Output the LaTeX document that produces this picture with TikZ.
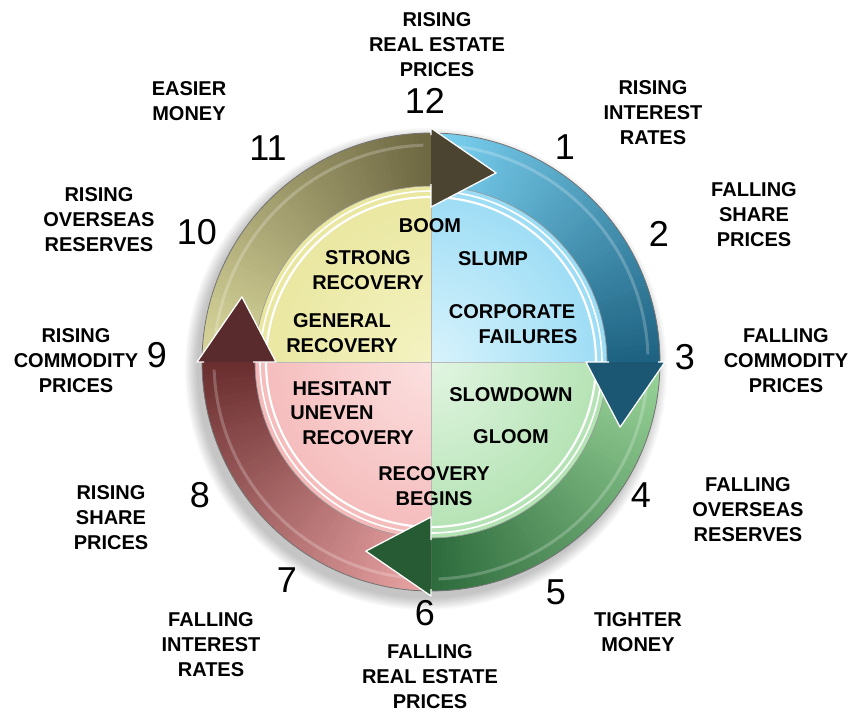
\documentclass[tikz,border=0pt]{standalone}
\usepackage{fontspec}
\setmainfont{Liberation Sans}

% quadrant colours (centre, middle, rim, outer rim)
\definecolor{yA}{HTML}{F4F3C2}\definecolor{yB}{HTML}{E8E59B}\definecolor{yC}{HTML}{D3CC80}\definecolor{yD}{HTML}{B5AD62}
\definecolor{bA}{HTML}{D8F3FC}\definecolor{bB}{HTML}{93D9F4}\definecolor{bC}{HTML}{45B6E5}\definecolor{bD}{HTML}{2A93C2}
\definecolor{gA}{HTML}{E2F5E2}\definecolor{gB}{HTML}{ADE0AD}\definecolor{gC}{HTML}{6DC276}\definecolor{gD}{HTML}{4A9A58}
\definecolor{rA}{HTML}{FCE0E0}\definecolor{rB}{HTML}{F4B6B6}\definecolor{rC}{HTML}{E38F8F}\definecolor{rD}{HTML}{C86767}

% band colours: light tail, dark end, arrow head
\definecolor{oL}{HTML}{DAD89D}\definecolor{oD}{HTML}{6E6843}\definecolor{oH}{HTML}{4A4431}
\definecolor{cL}{HTML}{7DD3F3}\definecolor{cD}{HTML}{1F6382}\definecolor{cH}{HTML}{1B5673}
\definecolor{grL}{HTML}{9AD59A}\definecolor{grD}{HTML}{2E6C3D}\definecolor{grH}{HTML}{265B33}
\definecolor{reL}{HTML}{EBA5A5}\definecolor{reD}{HTML}{6B2F30}\definecolor{reH}{HTML}{5A2B2C}

\pgfdeclareradialshading{quadY}{\pgfpoint{0bp}{0bp}}{color(0bp)=(yA); color(28bp)=(yB); color(44bp)=(yC); color(50bp)=(yD)}
\pgfdeclareradialshading{quadB}{\pgfpoint{0bp}{0bp}}{color(0bp)=(bA); color(28bp)=(bB); color(44bp)=(bC); color(50bp)=(bD)}
\pgfdeclareradialshading{quadG}{\pgfpoint{0bp}{0bp}}{color(0bp)=(gA); color(28bp)=(gB); color(44bp)=(gC); color(50bp)=(gD)}
\pgfdeclareradialshading{quadR}{\pgfpoint{0bp}{0bp}}{color(0bp)=(rA); color(28bp)=(rB); color(44bp)=(rC); color(50bp)=(rD)}

% one quarter of the inner disk: #1 start angle, #2 shading
\newcommand\quarterdisk[2]{%
  \begin{scope}
    \clip (0,0) -- (#1:177) arc[start angle=#1, end angle=#1+90, radius=177] -- cycle;
    \shade[shading=#2] (0,0) circle (177);
  \end{scope}}

% curved band of one arrow, darkening towards its head:
% #1 tail angle, #2 light colour, #3 dark colour
\newcommand\bandshaft[3]{%
  \foreach \i in {0,...,59}{%
    \pgfmathsetmacro\angA{#1-1.5*\i}%
    \pgfmathsetmacro\angB{#1-1.5*\i-2}%
    \pgfmathtruncatemacro\pct{100-\i*100/59}%
    \fill[#2!\pct!#3] (\angA:176) arc[start angle=\angA, end angle=\angB, radius=176]
      -- (\angB:229) arc[start angle=\angB, end angle=\angA, radius=229] -- cycle;
  }%
  \draw[white, opacity=.22, line width=3] ({#1-3}:217) arc[start angle=#1-3, end angle=#1-88, radius=217];
}

% arrow head: #1 base angle, #2 fill colour
\newcommand\bandhead[2]{%
  \fill[#2] (#1:155) -- (#1:234) -- ({#1-19}:200) -- cycle;
  \draw[white, line width=1.3, line join=round] (#1:227) -- (#1:234) -- ({#1-19}:200) -- (#1:155) -- (#1:178);
}

\begin{document}
\begin{tikzpicture}[x=1pt, y=-1pt,
  lab/.style={font=\bfseries\fontsize{20}{25}\selectfont, align=center, inner sep=0pt},
  num/.style={font=\fontsize{36}{40}\selectfont, inner sep=0pt},
  inlab/.style={font=\bfseries\fontsize{20}{25}\selectfont, align=center, inner sep=0pt}]

\useasboundingbox (0,0) rectangle (852,713);
\fill[white] (0,0) rectangle (852,713);

\begin{scope}[shift={(431,362)}, yscale=-1]
  % soft shadow under the wheel
  \foreach \k in {1,...,10}
    \fill[black, opacity=0.025] (-5,-7) circle ({228+\k*1.3});

  % inner disk in four quarters
  \quarterdisk{90}{quadY}
  \quarterdisk{0}{quadB}
  \quarterdisk{-90}{quadG}
  \quarterdisk{180}{quadR}

  % white double ring
  \draw[white, line width=2.2] (0,0) circle (165);
  \draw[white, line width=1.6] (0,0) circle (171);

  % quarter dividers
  \draw[gray!55, line width=0.7] (0,-160) -- (0,160);
  \draw[gray!55, line width=0.7] (-160,0) -- (160,0);

  % curved bands
  \bandshaft{180}{oL}{oD}
  \bandshaft{90}{cL}{cD}
  \bandshaft{0}{grL}{grD}
  \bandshaft{-90}{reL}{reD}
  \draw[black!55, line width=0.8] (0,0) circle (229);
  \draw[black!40, line width=0.6] (0,0) circle (176);

  % arrow heads
  \bandhead{90}{oH}
  \bandhead{0}{cH}
  \bandhead{-90}{grH}
  \bandhead{180}{reH}
\end{scope}

% phase names inside the wheel
\node[inlab] (boom) at (430,226) {BOOM};
\node[inlab] (strong) at (368,270) {STRONG\\RECOVERY};
\node[inlab] (general) at (342,333) {GENERAL\\RECOVERY};
\node[inlab] (slump) at (493,259) {SLUMP};
\node[inlab] (corp) at (512,312) {CORPORATE};
\node[inlab] (fail) at (528,337) {FAILURES};
\node[inlab] (hes) at (342,389) {HESITANT};
\node[inlab] (uneven) at (332,413) {UNEVEN};
\node[inlab] (hesrec) at (358,438) {RECOVERY};
\node[inlab] (slow) at (511,395) {SLOWDOWN};
\node[inlab] (gloom) at (511,437) {GLOOM};
\node[inlab] (begins) at (434,486) {RECOVERY\\BEGINS};

% clock numbers
\node[num] (n12) at (425,101) {12};
\node[num] (n1) at (565,147) {1};
\node[num] (n2) at (659,234) {2};
\node[num] (n3) at (685,357) {3};
\node[num] (n4) at (641,495) {4};
\node[num] (n5) at (556,592) {5};
\node[num] (n6) at (425,613) {6};
\node[num] (n7) at (287,580) {7};
\node[num] (n8) at (200,495) {8};
\node[num] (n9) at (157,355) {9};
\node[num] (n10) at (197,232) {10};
\node[num] (n11) at (268,148) {11};

% outer labels
\node[lab] (l12) at (437,45) {RISING\\REAL ESTATE\\PRICES};
\node[lab] (l1) at (653,113) {RISING\\INTEREST\\RATES};
\node[lab] (l2) at (754,215) {FALLING\\SHARE\\PRICES};
\node[lab] (l3) at (786,361) {FALLING\\COMMODITY\\PRICES};
\node[lab] (l4) at (748,510) {FALLING\\OVERSEAS\\RESERVES};
\node[lab] (l5) at (638,632) {TIGHTER\\MONEY};
\node[lab] (l6) at (430,677) {FALLING\\REAL ESTATE\\PRICES};
\node[lab] (l7) at (211,645) {FALLING\\INTEREST\\RATES};
\node[lab] (l8) at (111,518) {RISING\\SHARE\\PRICES};
\node[lab] (l9) at (76,361) {RISING\\COMMODITY\\PRICES};
\node[lab] (l10) at (99,220) {RISING\\OVERSEAS\\RESERVES};
\node[lab] (l11) at (189,101) {EASIER\\MONEY};
\end{tikzpicture}
\end{document}
